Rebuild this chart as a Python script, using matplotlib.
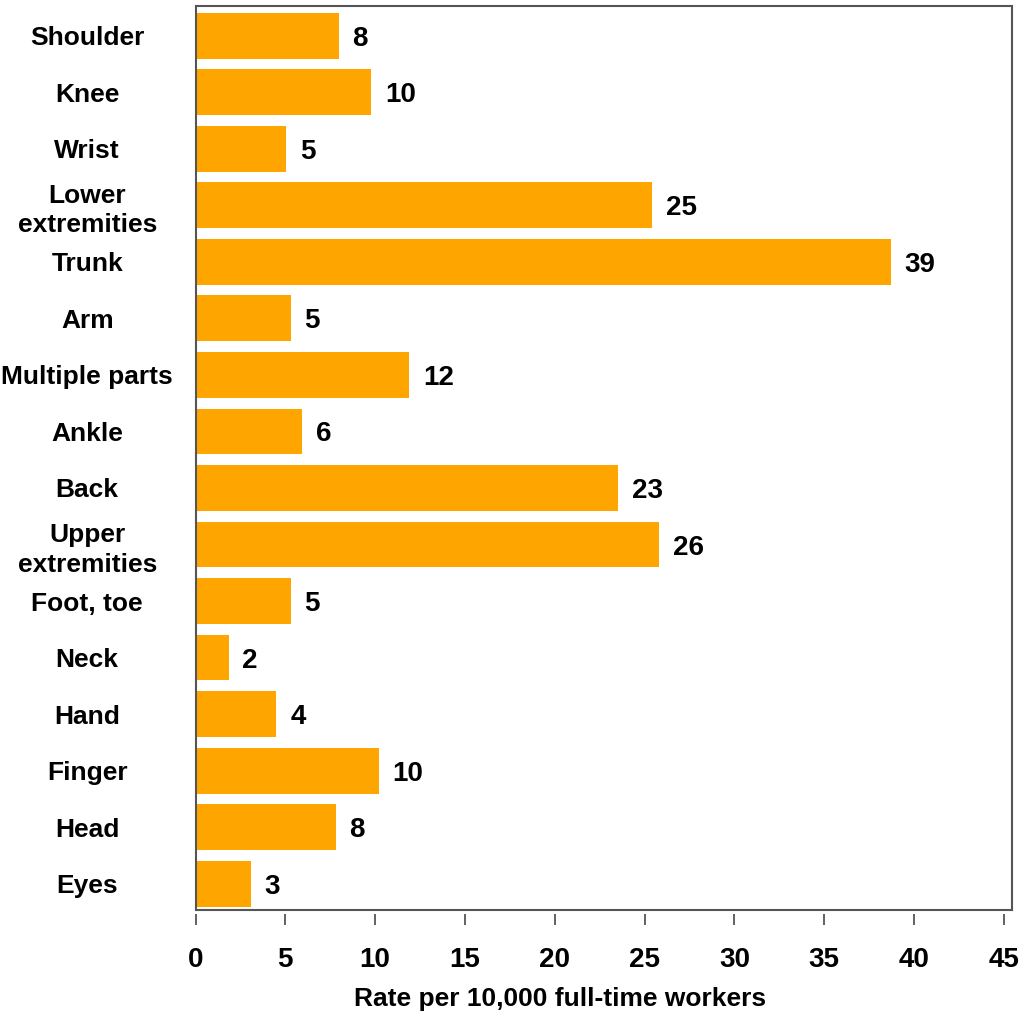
import matplotlib.pyplot as plt

plt.rcParams["font.family"] = ["Liberation Sans", "DejaVu Sans"]
plt.rcParams["font.weight"] = "bold"

# top to bottom, as in the chart
parts = [
    "Shoulder", "Knee", "Wrist", "Lower\nextremities", "Trunk", "Arm",
    "Multiple parts", "Ankle", "Back", "Upper\nextremities", "Foot, toe",
    "Neck", "Hand", "Finger", "Head", "Eyes",
]
rates = [7.96, 9.79, 5.06, 25.4, 38.7, 5.29, 11.9, 5.95, 23.5, 25.8,
         5.29, 1.84, 4.5, 10.2, 7.8, 3.06]
rate_labels = ["8", "10", "5", "25", "39", "5", "12", "6", "23", "26",
               "5", "2", "4", "10", "8", "3"]
x_ticks = [0, 5, 10, 15, 20, 25, 30, 35, 40, 45]

bar_color = "#FFA500"
spine_color = "#555555"

fig = plt.figure(figsize=(10.19, 10.16), dpi=100)
ax = fig.add_axes([0.1919, 0.1043, 0.8012, 0.8898])

ypos = list(range(len(parts)))
ax.barh(ypos, rates, height=0.81, color=bar_color, edgecolor="none")

for y, val, lab in zip(ypos, rates, rate_labels):
    ax.annotate(lab, xy=(val, y), xytext=(10, 0), textcoords="offset points",
                ha="left", va="center_baseline", fontsize=20, fontweight="bold")

ax.set_ylim(len(parts) - 0.535, -0.525)
ax.set_xlim(0, 45.45)

ax.set_yticks(ypos)
ax.set_yticklabels(parts, ha="center", multialignment="center",
                   fontsize=19, fontweight="bold", linespacing=1.3)
ax.tick_params(axis="y", length=0, pad=78)

ax.set_xticks(x_ticks)
ax.tick_params(axis="x", length=0, labelbottom=False)

for sp in ax.spines.values():
    sp.set_color(spine_color)
    sp.set_linewidth(1.5)

# tick marks sit a little below the frame
sec = ax.secondary_xaxis(-0.004)
sec.set_xticks(x_ticks)
sec.spines["bottom"].set_visible(False)
sec.tick_params(axis="x", direction="out", length=8, width=1.3,
                color=spine_color, pad=16, labelsize=20)
for t in sec.get_xticklabels():
    t.set_fontweight("bold")
sec.set_xlabel("Rate per 10,000 full-time workers", fontsize=19,
               fontweight="bold", labelpad=10, x=0.446)

fig.savefig("out.png", dpi=100)
